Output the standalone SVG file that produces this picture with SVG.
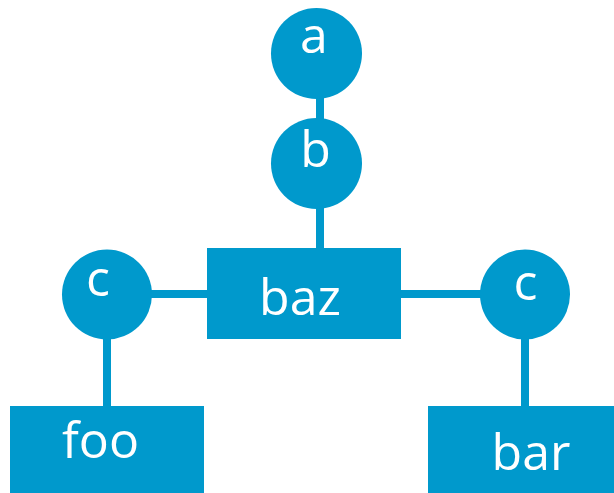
<svg xmlns="http://www.w3.org/2000/svg" width="614" height="493" viewBox="0 0 614 493">
  <style>
    .shape { fill: #0099cc; }
    .edge { stroke: #0099cc; stroke-width: 8; fill: none; }
    .label { fill: #ffffff; font-family: "Open Sans", "Noto Sans", sans-serif; font-size: 50px; text-anchor: middle; }
  </style>
  <rect width="614" height="493" fill="#ffffff"/>
  <g id="edges">
    <line class="edge" x1="320" y1="90" x2="320" y2="125"/>
    <line class="edge" x1="320" y1="200" x2="320" y2="252"/>
    <line class="edge" x1="145" y1="294" x2="210" y2="294"/>
    <line class="edge" x1="398" y1="294" x2="488" y2="294"/>
    <line class="edge" x1="107" y1="330" x2="107" y2="410"/>
    <line class="edge" x1="525" y1="330" x2="525" y2="410"/>
  </g>
  <g id="node-a">
    <circle class="shape" cx="316.5" cy="53.5" r="45.5"/>
    <text class="label" x="314" y="53">a</text>
  </g>
  <g id="node-b">
    <circle class="shape" cx="316.5" cy="163.5" r="45.5"/>
    <text class="label" x="315.5" y="167">b</text>
  </g>
  <g id="node-baz">
    <rect class="shape" x="207" y="248" width="194" height="91"/>
    <text class="label" x="300" y="315">baz</text>
  </g>
  <g id="node-c-left">
    <circle class="shape" cx="107" cy="294.5" r="45"/>
    <text class="label" x="98" y="296">c</text>
  </g>
  <g id="node-c-right">
    <circle class="shape" cx="525" cy="294.5" r="45"/>
    <text class="label" x="525.5" y="300">c</text>
  </g>
  <g id="node-foo">
    <rect class="shape" x="10" y="406" width="194" height="87"/>
    <text class="label" x="100.5" y="458">foo</text>
  </g>
  <g id="node-bar">
    <rect class="shape" x="428" y="406" width="186" height="87"/>
    <text class="label" x="531" y="470">bar</text>
  </g>
</svg>
